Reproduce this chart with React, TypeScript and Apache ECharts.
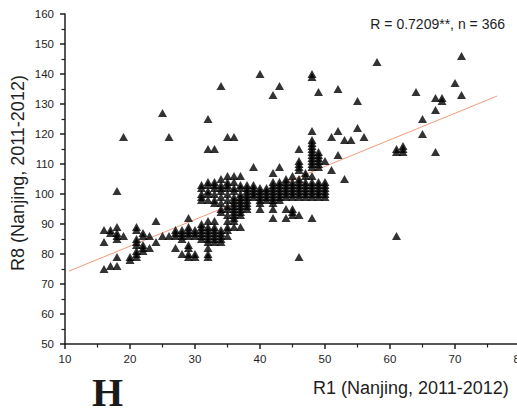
import React, { useEffect, useRef } from "react";
import * as echarts from "echarts";

// R1 value -> list of R8 values observed in that column
const lowCluster: [number, number[]][] = [
  [16, [88, 84, 75]],
  [17, [88, 87, 76]],
  [18, [101, 89, 87, 86, 85, 79, 76]],
  [19, [119, 86]],
  [20, [79, 78]],
  [21, [89, 88, 85, 84, 83, 81, 80, 79]],
  [22, [87, 86, 83, 82, 81]],
  [23, [86, 82]],
  [24, [91, 84]],
  [25, [127, 86]],
  [26, [119, 86]],
  [27, [88, 87, 86, 82]],
  [28, [88, 87, 86, 85, 80]],
  [29, [92, 89, 88, 87, 86, 83, 82, 80, 79]],
  [30, [88, 87, 86, 80, 79]],
];

const midCluster: [number, number[]][] = [
  [31, [103, 102, 100, 99, 98, 90, 89, 88, 87, 86, 85]],
  [32, [125, 115, 104, 103, 101, 100, 98, 91, 89, 88, 87, 86, 85, 84, 82, 80, 79]],
  [33, [115, 104, 103, 102, 100, 98, 97, 91, 89, 88, 87, 86, 85, 84]],
  [34, [136, 105, 103, 102, 101, 99, 97, 95, 94, 88, 87, 86, 85, 84]],
  [35, [119, 106, 104, 103, 102, 100, 98, 96, 95, 93, 91, 89, 88, 86]],
  [36, [119, 106, 104, 102, 101, 99, 98, 97, 96, 95, 94, 93, 92, 91, 89]],
  [37, [106, 103, 102, 100, 99, 98, 97, 96, 95, 94, 93, 89]],
  [38, [103, 102, 101, 100, 99, 98, 97, 96, 95]],
  [39, [109, 103, 102, 101, 100, 99]],
  [40, [140, 102, 101, 100, 99, 98, 97, 95]],
  [41, [102, 101, 100, 99, 98]],
];

const highCluster: [number, number[]][] = [
  [42, [133, 107, 104, 103, 102, 101, 100, 99, 98, 97, 95, 92]],
  [43, [136, 109, 104, 103, 102, 101, 100, 99, 98]],
  [44, [105, 104, 103, 102, 101, 100, 99, 95, 92]],
  [45, [106, 104, 103, 102, 101, 100, 99, 95, 94, 93]],
  [46, [115, 111, 110, 109, 108, 105, 104, 103, 102, 101, 100, 99, 93, 79]],
  [47, [107, 106, 104, 103, 102, 101, 100, 99]],
  [48, [140, 139, 121, 118, 117, 116, 115, 114, 113, 112, 111, 110, 109, 106, 104, 103, 102, 101, 100, 99, 92]],
  [49, [134, 114, 113, 112, 111, 110, 109, 104, 103, 102, 101, 100, 99]],
  [50, [111, 104, 103, 102, 101, 100, 99]],
];

const rightTail: [number, number[]][] = [
  [51, [119, 108]],
  [52, [135, 121, 113]],
  [53, [118, 105]],
  [54, [118]],
  [55, [131, 122]],
  [56, [119]],
  [58, [144]],
  [61, [115, 114, 86]],
  [62, [116, 115, 114]],
  [64, [134]],
  [65, [125, 120]],
  [67, [132, 128, 114]],
  [68, [132, 131]],
  [70, [137]],
  [71, [146, 133]],
];

// linear fit R8 = a + b * R1
const fitIntercept = 64.9;
const fitSlope = 0.886;
const fitRange = [10.6, 76.5];

const xTicks = { min: 10, max: 80, step: 10 };
const yTicks = { min: 50, max: 160, step: 10 };

const statText = "R = 0.7209**, n = 366";
const xTitle = "R1 (Nanjing, 2011-2012)";
const yTitle = "R8 (Nanjing, 2011-2012)";
const panelLabel = "H";

const points: [number, number][] = [...lowCluster, ...midCluster, ...highCluster, ...rightTail].flatMap(
  ([x, ys]) => ys.map((y) => [x, y] as [number, number])
);
const fitLine = fitRange.map((x) => [x, fitIntercept + fitSlope * x]);

const SANS = '"Liberation Sans", Arial, sans-serif';
const INK = "#1e1e1e";

function axisCommon(margin: number) {
  return {
    type: "value" as const,
    axisLine: { show: true, onZero: false, lineStyle: { color: INK, width: 1.5 } },
    axisTick: { show: true, inside: false, length: 5, lineStyle: { color: INK, width: 1.5 } },
    minorTick: { show: true, splitNumber: 2, length: 3.5, lineStyle: { color: INK, width: 1.2 } },
    splitLine: { show: false },
    minorSplitLine: { show: false },
    axisLabel: { color: INK, fontSize: 11.5, fontFamily: SANS, margin },
  };
}

export default function App() {
  const ref = useRef<HTMLDivElement>(null);
  useEffect(() => {
    const chart = echarts.init(ref.current!, null, { renderer: "svg" });
    chart.setOption({
      animation: false,
      backgroundColor: "#ffffff",
      grid: { left: 65, top: 14, width: 455, height: 330, outerBoundsMode: "none", containLabel: false },
      xAxis: { ...axisCommon(9), min: xTicks.min, max: xTicks.max, interval: xTicks.step },
      yAxis: { ...axisCommon(11), min: yTicks.min, max: yTicks.max, interval: yTicks.step },
      series: [
        {
          type: "line",
          data: fitLine,
          symbol: "none",
          silent: true,
          lineStyle: { color: "#f29a7c", width: 1 },
          z: 1,
        },
        {
          type: "scatter",
          data: points,
          symbol: "triangle",
          symbolSize: [9, 8],
          itemStyle: { color: "#000000" },
          z: 2,
        },
      ],
      graphic: [
        {
          type: "text",
          x: 505,
          y: 24,
          style: {
            text: statText,
            fill: INK,
            fontSize: 14,
            fontFamily: SANS,
            align: "right",
            verticalAlign: "middle",
          },
        },
        {
          type: "text",
          x: 313,
          y: 388,
          style: {
            text: xTitle,
            fill: INK,
            fontSize: 18,
            fontFamily: SANS,
            align: "left",
            verticalAlign: "middle",
          },
        },
        {
          type: "text",
          x: 18,
          y: 173,
          rotation: Math.PI / 2,
          style: {
            text: yTitle,
            fill: INK,
            fontSize: 18,
            fontFamily: SANS,
            align: "center",
            verticalAlign: "middle",
          },
        },
        {
          type: "text",
          x: 92,
          y: 392,
          style: {
            text: panelLabel,
            fill: "#1a1a1a",
            fontSize: 40,
            fontWeight: "bold",
            fontFamily: '"Liberation Serif", "Times New Roman", serif',
            align: "left",
            verticalAlign: "middle",
          },
        },
      ],
    });
    return () => chart.dispose();
  }, []);
  return (
    <div
      ref={ref}
      style={{ position: "absolute", left: 0, top: 0, width: 517, height: 413, background: "#fff" }}
    />
  );
}
